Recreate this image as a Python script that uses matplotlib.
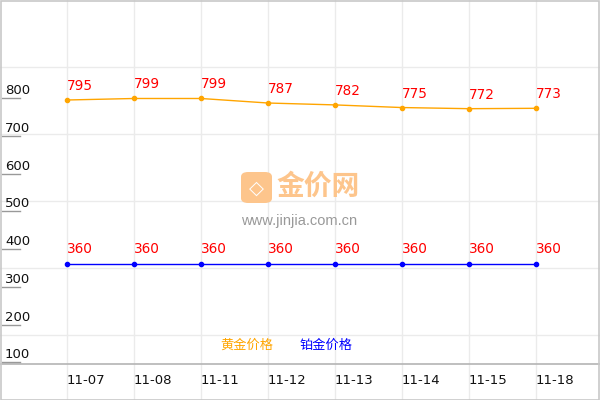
import matplotlib
matplotlib.use("Agg")
import matplotlib.pyplot as plt
from matplotlib.patches import FancyBboxPatch, Rectangle

dates = ["11-07", "11-08", "11-11", "11-12", "11-13", "11-14", "11-15", "11-18"]
gold = [795, 799, 799, 787, 782, 775, 772, 773]
platinum = [360, 360, 360, 360, 360, 360, 360, 360]
yticks = [100, 200, 300, 400, 500, 600, 700, 800]
legend_names = ["黄金价格", "铂金价格"]

plt.rcParams['font.family'] = ['DejaVu Sans']
cjk = ['Noto Sans CJK SC', 'DejaVu Sans']

W, H = 600, 400
fig = plt.figure(figsize=(6, 4), dpi=100)
ax = fig.add_axes([0, 0, 1, 1])
ax.set_axis_off()
ax.set_xlim(-1, W / 67 - 1)
ax.set_ylim(0, 1060)

def fx(px):
    return px / W

def fy(py):
    return 1 - py / H

# grid (pixel spaced like the original)
for py in [67, 134, 201, 268, 335]:
    ax.axhline(fy(py) * 1060, color="#ebebeb", lw=1, zorder=0)
for i in range(len(dates)):
    ax.axvline(i, color="#ebebeb", lw=1, zorder=0)
ax.axhline(fy(364) * 1060, color="#b4b4b4", lw=1.2, zorder=1)

# y ticks: short line with the label sitting on it
for v in yticks:
    ax.plot([-1 + 2 / 67, -1 + 20 / 67], [v, v], color="#999999", lw=1, zorder=1)
    ax.annotate(str(v), (-1 + 5 / 67, v), xytext=(0, 4), textcoords="offset pixels",
                fontsize=9.5, color="#111111", ha="left", va="baseline")

# x labels
for i, d in enumerate(dates):
    ax.text(fx(67 * (i + 1)), fy(380), d, transform=fig.transFigure,
            fontsize=9.5, color="#111111", ha="left", va="center")

x = list(range(len(dates)))
ax.plot(x, gold, color="#FFA500", lw=1, marker="o", ms=3, zorder=3)
ax.plot(x, platinum, color="#0000FF", lw=1, marker="o", ms=3, zorder=3)
for i in x:
    ax.annotate(str(gold[i]), (i, gold[i]), xytext=(0, 14), textcoords="offset pixels",
                fontsize=9.8, color="#FF0000", ha="left", va="center")
    ax.annotate(str(platinum[i]), (i, platinum[i]), xytext=(0, 15), textcoords="offset pixels",
                fontsize=9.8, color="#FF0000", ha="left", va="center")

# legend
fig.text(fx(220), fy(345), legend_names[0], family=cjk, fontsize=9.5, color="#FFA500",
         ha="left", va="center")
fig.text(fx(300), fy(345), legend_names[1], family=cjk, fontsize=9.5, color="#0000FF",
         ha="left", va="center")

# watermark
logo = FancyBboxPatch((fx(241), fy(203)), fx(31), 31 / H, boxstyle="round,pad=0,rounding_size=0.012",
                      transform=fig.transFigure, fc="#fdc58c", ec="none", zorder=2)
fig.patches.append(logo)
fig.text(fx(256.5), fy(188), "◇", transform=fig.transFigure, fontsize=14, color="white",
         ha="center", va="center", weight="bold")
fig.text(fx(276), fy(187), "金价网", family=cjk, fontsize=20, weight="bold", color="#fdc58c",
         ha="left", va="center")
fig.text(fx(241), fy(221), "www.jinjia.com.cn", family=["Liberation Sans", "DejaVu Sans"],
         fontsize=10.5, color="#999999", ha="left", va="center")

# border
fig.patches.append(Rectangle((0.5 / W, 0.5 / H), 1 - 1.5 / W, 1 - 1.5 / H, transform=fig.transFigure,
                             fill=False, ec="#c8c8c8", lw=1.2))

fig.savefig("out.png", dpi=100)
